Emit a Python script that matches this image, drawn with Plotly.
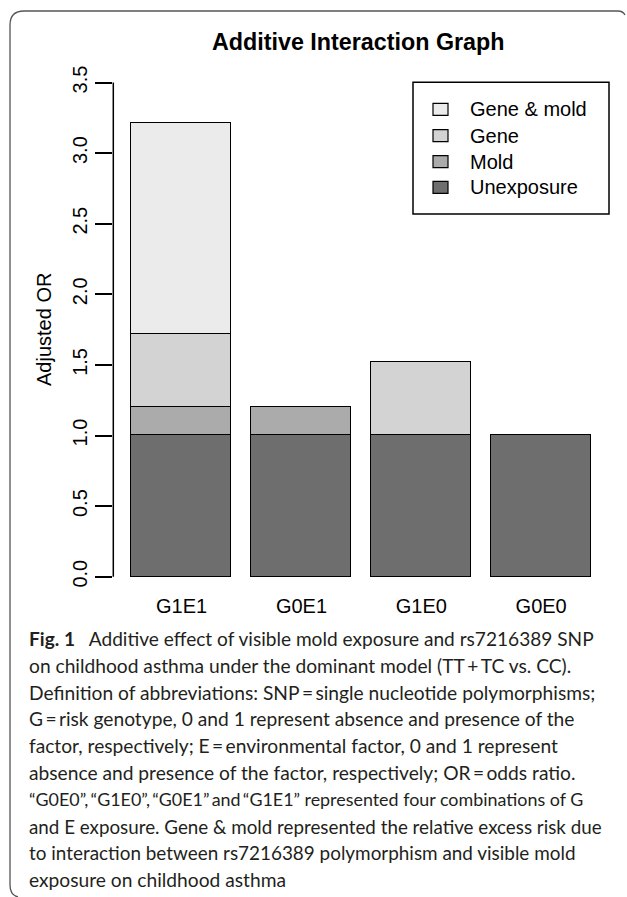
import plotly.graph_objects as go

# ---------------- data ----------------
categories = ["G1E1", "G0E1", "G1E0", "G0E0"]
unexposure = [1.00, 1.00, 1.00, 1.00]
mold = [0.20, 0.20, 0.00, 0.00]
gene = [0.52, 0.00, 0.52, 0.00]
gene_mold = [1.49, 0.00, 0.00, 0.00]
series_names = ["Unexposure", "Mold", "Gene", "Gene & mold"]
series_colors = ["#6E6E6E", "#ABABAB", "#D3D3D3", "#EBEBEB"]
y_ticks = [0.0, 0.5, 1.0, 1.5, 2.0, 2.5, 3.0, 3.5]
bar_pos = [0.7, 1.9, 3.1, 4.3]

TS = "\u2009"  # thin space
caption_lines = [
    f"on childhood asthma under the dominant model (TT{TS}+{TS}TC vs. CC).",
    f"Definition of abbreviations: SNP{TS}={TS}single nucleotide polymorphisms;",
    f"G{TS}={TS}risk genotype, 0 and 1 represent absence and presence of the",
    f"factor, respectively; E{TS}={TS}environmental factor, 0 and 1 represent",
    f"absence and presence of the factor, respectively; OR{TS}={TS}odds ratio.",
    f"\u201cG0E0\u201d,{TS}\u201cG1E0\u201d,{TS}\u201cG0E1\u201d{TS}and{TS}\u201cG1E1\u201d represented four combinations of G",
    "and E exposure. Gene & mold represented the relative excess risk due",
    "to interaction between rs7216389 polymorphism and visible mold",
    "exposure on childhood asthma",
]
caption_sizes = [19.2, 19.2, 19.2, 19.2, 19.2, 17.9, 18.8, 18.9, 19.2]
caption_first = "<b>Fig. 1</b>\u2002 Additive effect of visible mold exposure and rs7216389 SNP"

W, H = 627, 897
def px(x):
    return x / W
def py(y):
    return 1 - y / H

# plot region in pixels
XL, XR = 113.3, 609.5
Y0PX, PPU = 576.7, 141.2   # pixel row of y=0 and pixels per unit
YT, YB = 63.1, 592.0
x_range = [0.016, 4.984]
y_range = [-(YB - Y0PX) / PPU, (Y0PX - YT) / PPU]

fig = go.Figure()
values = [unexposure, mold, gene, gene_mold]
for name, col, vals in zip(series_names, series_colors, values):
    fig.add_trace(go.Bar(
        x=bar_pos, y=vals, width=1.0, name=name,
        marker=dict(color=col, line=dict(color="black", width=1.6)),
        showlegend=False, hoverinfo="skip",
    ))

AX_FONT = dict(family="Liberation Sans, Arial, sans-serif", size=20, color="black")

fig.update_layout(
    width=W, height=H,
    margin=dict(l=0, r=0, t=0, b=0),
    barmode="stack",
    bargap=0,
    paper_bgcolor="white",
    plot_bgcolor="white",
    xaxis=dict(
        domain=[px(XL), px(XR)], range=x_range, tickvals=bar_pos, ticktext=categories,
        showline=False, showgrid=False, zeroline=False, ticks="",
        tickfont=AX_FONT, automargin=False,
    ),
    yaxis=dict(
        domain=[py(YB), py(YT)], range=y_range, tickvals=y_ticks,
        ticktext=[f"{v:.1f}" for v in y_ticks],
        showline=False, showgrid=False, zeroline=False,
        ticks="outside", ticklen=17, tickwidth=1.5, tickcolor="black",
        tickangle=-90, tickfont=AX_FONT, automargin=False,
    ),
)

# y axis line from 0 to 3.5
fig.add_shape(type="line", xref="paper", yref="y", x0=px(XL), x1=px(XL),
              y0=y_ticks[0], y1=y_ticks[-1], line=dict(color="black", width=1.5))

# y axis title
fig.add_annotation(text="Adjusted OR", xref="paper", yref="paper",
                   x=px(44), y=py(330), textangle=-90, showarrow=False,
                   font=AX_FONT, xanchor="center", yanchor="middle")

# title
fig.add_annotation(text="<b>Additive Interaction Graph</b>", xref="paper", yref="paper",
                   x=px(359), y=py(42), showarrow=False,
                   font=dict(family="Liberation Sans, Arial, sans-serif", size=23.3, color="black"),
                   xanchor="center", yanchor="middle")

# legend box (manual, R style)
LX0, LX1, LY0, LY1 = 413, 609, 82.3, 214
fig.add_shape(type="rect", xref="paper", yref="paper", x0=px(LX0), x1=px(LX1),
              y0=py(LY1), y1=py(LY0), line=dict(color="black", width=1.5), fillcolor="rgba(0,0,0,0)")
row_y = [109.3, 135.7, 161.7, 187.3]
leg_order = list(range(len(series_names)))[::-1]
for ry, idx in zip(row_y, leg_order):
    fig.add_shape(type="rect", xref="paper", yref="paper",
                  x0=px(433), x1=px(448), y0=py(ry + 6), y1=py(ry - 6),
                  line=dict(color="black", width=1.2), fillcolor=series_colors[idx])
    fig.add_annotation(text=series_names[idx], xref="paper", yref="paper",
                       x=px(468), y=py(ry), showarrow=False, font=AX_FONT,
                       xanchor="left", yanchor="middle")

# caption
CAP_FAMILY = "Lato, Open Sans, sans-serif"
CAP_COLOR = "#231F20"
cap_y0 = 638.5
step = 26.8
fig.add_annotation(text=caption_first, xref="paper", yref="paper", x=px(27), y=py(cap_y0),
                   showarrow=False, font=dict(family=CAP_FAMILY, size=19.1, color=CAP_COLOR),
                   xanchor="left", yanchor="middle")
for i, (line, fs) in enumerate(zip(caption_lines, caption_sizes)):
    fig.add_annotation(text=line, xref="paper", yref="paper", x=px(27),
                       y=py(cap_y0 + (i + 1) * step), showarrow=False,
                       font=dict(family=CAP_FAMILY, size=fs, color=CAP_COLOR),
                       xanchor="left", yanchor="middle")

# frame (rounded corner caption box)
path = (f"M {px(625)},{py(15)} Q {px(623)},{py(11)} {px(618)},{py(11)} "
        f"L {px(24)},{py(11)} Q {px(10)},{py(11)} {px(10)},{py(25)} "
        f"L {px(10)},{py(885)} Q {px(10)},{py(895)} {px(18)},{py(897)}")
fig.add_shape(type="path", xref="paper", yref="paper", path=path,
              line=dict(color="#555555", width=1.3))

fig.write_html("out.html", config={"displayModeBar": False},
               post_script="document.body.style.margin='0';document.body.style.padding='0';")
